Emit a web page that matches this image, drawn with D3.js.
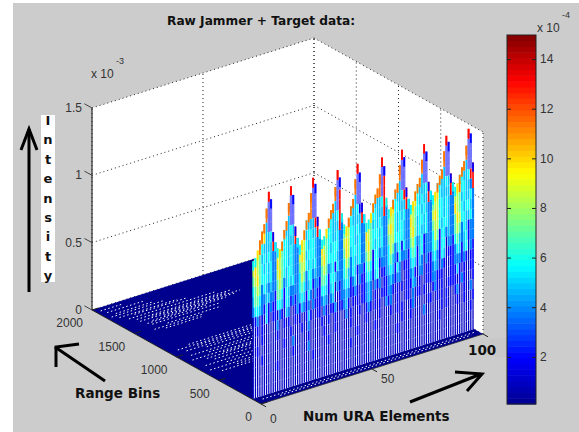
<!DOCTYPE html>
<html>
<head>
<meta charset="utf-8">
<script src="https://cdn.jsdelivr.net/npm/d3@7"></script>
<style>
  html, body { margin: 0; padding: 0; background: #fff; }
  svg { display: block; }
  text { font-family: "Liberation Sans", Arial, sans-serif; fill: #333; font-size: 12px; }
  .bold { font-family: "DejaVu Sans", sans-serif; font-weight: bold; fill: #111; }
</style>
</head>
<body>
<div class="content"></div>
<script>
var xTicks = [0, 50, 100];
var yTicks = [0, 500, 1000, 1500, 2000];
var zTicks = [0, 0.5, 1, 1.5];
var zTickLabels = ['0', '0.5', '1', '1.5'];
var barTicks = [2, 4, 6, 8, 10, 12, 14];

// intensity (x 10^-4) that each digit in meshRows / meshCaps stands for
var levelValues = [1.0, 2.0, 3.8, 4.8, 5.6, 7.0, 8.4, 9.8, 11.4, 13.0];

// top of the mesh wall for each of the 100 elements (x 10^-4)
var meshTop = [
    10.2, 10.4, 10.9, 11.6, 12.2, 12.7, 13.8, 15.0, 14.4, 11.9,
    11.1, 10.6, 10.5, 11.0, 11.8, 12.4, 13.7, 14.9, 14.2, 11.8,
    10.9, 10.3, 10.6, 11.3, 12.0, 12.5, 13.9, 15.0, 14.5, 12.0,
    11.0, 10.2, 10.4, 10.9, 11.6, 12.2, 12.6, 13.8, 15.0, 14.4,
    11.7, 10.8, 10.6, 11.2, 12.0, 12.5, 13.9, 15.0, 14.3, 12.0,
    11.1, 10.4, 10.6, 11.0, 11.7, 12.3, 12.7, 13.7, 14.9, 14.2,
    11.8, 10.9, 11.0, 11.5, 12.2, 12.6, 13.9, 15.0, 14.4, 12.1,
    11.2, 10.7, 10.9, 11.6, 12.1, 12.5, 13.8, 14.9, 14.3, 12.0,
    11.3, 10.9, 11.1, 11.7, 12.2, 12.6, 13.9, 15.0, 14.5, 12.1,
    11.4, 11.0, 11.2, 11.8, 12.3, 12.7, 13.8, 15.0, 14.6, 12.4
];

// colour of the outline at the top of each element
var meshCaps = '4478888911 4478888911 4478888911 4447888891 4478888911 4447888891 4478888911 4478888911 4478888911 4478888911';

// what colour the wall shows at each height, one row per 0.75 from 15 down to 0
var meshRows = [
    '1111111911 1111111911 1111111911 1111111191 1111111911 1111111191 1111111911 1111111911 1111111911 1111111911',
    '1111118110 1111118110 1111118119 1111111811 1111118119 1111111811 1111118110 1111118119 1111118119 1111118110',
    '1111188110 1111188119 1111188119 1111118819 1111188110 1111118819 1111188119 1111188110 1111188119 1111188119',
    '1111883119 1111883119 1111788119 1111178319 1111883119 1111178819 1111883119 1111873119 1111783119 1111883119',
    '1188873349 1178833439 7788433399 1787843349 8783433419 1788733349 8883433499 1787433349 7873433439 8784433499',
    '6678433339 2766443339 2677344339 2677443339 2678433339 2677443339 2667443339 2677434339 2677433339 2678443329',
    '5665343432 2665443432 2566434432 2665443342 2566443432 2665343432 2566434342 2665443432 2566443432 2665343342',
    '6765434342 2765443432 2676344432 2765434442 2676443342 2765444342 2676434432 2765344342 2676443432 2765434432',
    '5675444342 2675434432 2566434342 2675444432 2576344342 2675434342 2566444432 2675343342 2566434432 2576443342',
    '4565243232 2565234342 2465244232 2565234142 2465243342 2565144232 2465234142 2564234122 2465144232 2565243122',
    '3554223322 1554143222 2454234122 1554144322 2453243122 1454144122 2453214222 1454134122 2453144022 1453234122',
    '2443213121 1443143121 2343142021 1443134021 2343123021 1343134011 2343142011 1343132021 1342143011 1243134021',
    '0120103101 1021032001 2132120211 1232023001 2232112101 1232021201 1232122001 1231022011 1232021001 1222121011',
    '0010100000 0200101001 0100131001 1021011201 1231010101 1232010011 1221010101 1132010011 1221110001 1131010011',
    '0000100000 0100000100 0010020000 0100100100 0020100010 0121010100 2120010001 1020110100 0121010011 1101210001',
    '0010000000 0000100020 0000010000 0010000100 0000100000 0100000100 0010010100 0120000001 1001010100 0120010020',
    '0000100000 0000000010 0000020000 0000100000 0000000100 0000010000 0000000100 0100000200 0000010100 0010010001',
    '0000000000 0100000000 0000000100 0000000000 0000100000 0000000000 0000010000 0000000000 0000100000 0000000010',
    '0000000000 0000000000 0000000000 0000000000 0000000000 0000000000 0000000000 0000000000 0000000000 0000000000',
    '0000000000 0000000000 0000000000 0000000000 0000000000 0000000000 0000000000 0000000000 0000000000 0000000000'
];

// white flecks in the floor mesh: range bin, from element, to element
var floorGaps = [
    [1950, 2, 12], [1900, 3, 20], [1850, 5, 22], [1820, 2, 26], [1780, 4, 30],
    [1760, 10, 34], [1720, 6, 45], [1680, 8, 50], [1660, 14, 48], [1640, 8, 53],
    [1620, 18, 50], [1600, 12, 45], [1580, 9, 36], [1550, 10, 40], [1500, 15, 38],
    [1470, 8, 30], [1440, 12, 28], [1120, 10, 40], [1090, 4, 42], [1070, 12, 44],
    [1040, 6, 42], [1010, 14, 40], [960, 5, 45], [930, 12, 44], [890, 3, 45],
    [870, 16, 42], [850, 8, 38], [810, 10, 42], [760, 4, 44], [720, 12, 40],
    [680, 3, 40], [650, 14, 38], [620, 6, 35], [60, 3, 99], [35, 10, 96]
];

var width = 579, height = 432;
var wallBin = 105;

var svg = d3.select('.content').append('svg')
    .attr('width', width)
    .attr('height', height);

var xScale = d3.scaleLinear().domain([0, 100]).range([0, 1]);
var yScale = d3.scaleLinear().domain([0, 2000]).range([0, 1]);
var zScale = d3.scaleLinear().domain([0, 1.5]).range([0, 1]);

// orthographic view of the box
function project(x, y, z) {
    var a = xScale(x), b = yScale(y), c = zScale(z);
    return [261 + 222 * a - 169 * b, 404 - 70 * a - 94 * b - 202 * c];
}

function poly(points) {
    return 'M' + points.map(function(p) { return project(p[0], p[1], p[2]).join(','); }).join('L') + 'Z';
}

function segment(from, to, cls) {
    var p0 = project(from[0], from[1], from[2]);
    var p1 = project(to[0], to[1], to[2]);
    return svg.append('line')
        .attr('class', cls)
        .attr('x1', p0[0]).attr('y1', p0[1])
        .attr('x2', p1[0]).attr('y2', p1[1]);
}

function dotted(from, to) {
    segment(from, to, 'grid')
        .attr('stroke', '#222')
        .attr('stroke-width', 1)
        .attr('stroke-dasharray', '1 3');
}

var jet = d3.scaleLinear()
    .domain([0.1, 1.96, 5.68, 9.4, 13.12, 14.97])
    .range(['#00008f', '#0000ff', '#00ffff', '#ffff00', '#ff0000', '#800000'])
    .clamp(true);

function drawBackground() {
    svg.append('rect').attr('x', 13).attr('y', 3)
        .attr('width', width - 13).attr('height', height - 3)
        .attr('fill', '#cccccc');
    svg.append('rect').attr('x', 490).attr('y', 338)
        .attr('width', 17).attr('height', 19)
        .attr('fill', '#c8c8c8');
}

function drawBox() {
    svg.append('path').attr('fill', '#fff')
        .attr('d', poly([[0, 0, 0], [0, 2000, 0], [0, 2000, 1.5], [100, 2000, 1.5], [100, 0, 1.5], [100, 0, 0]]));

    zTicks.forEach(function(z) {
        dotted([0, 2000, z], [100, 2000, z]);
        dotted([100, 2000, z], [100, 0, z]);
    });
    xTicks.forEach(function(x) {
        dotted([x, 2000, 0], [x, 2000, 1.5]);
    });
    yTicks.forEach(function(y) {
        dotted([100, y, 0], [100, y, 1.5]);
    });
}

function drawFloor() {
    svg.append('path').attr('fill', jet(0.1))
        .attr('d', poly([[0, 0, 0], [0, 2000, 0], [100, 2000, 0], [100, 0, 0]]));

    floorGaps.forEach(function(g) {
        segment([g[1], g[0], 0], [g[2], g[0], 0], 'fleck')
            .attr('stroke', '#fff')
            .attr('stroke-width', 1)
            .attr('stroke-dasharray', '1.5 2.5');
    });
}

function drawMesh() {
    var rows = meshRows.map(function(r) { return r.replace(/ /g, ''); });
    var caps = meshCaps.replace(/ /g, '');
    var rowStep = 0.75;

    var wall = d3.area()
        .x(function(d, i) { return project(i + 0.5, wallBin, 0)[0]; })
        .y0(function(d, i) { return project(i + 0.5, wallBin, 0)[1]; })
        .y1(function(d, i) { return project(i + 0.5, wallBin, d / 10)[1]; });

    svg.append('path').datum(meshTop)
        .attr('fill', '#fff')
        .attr('d', wall);

    var stripes = svg.append('g').attr('class', 'mesh');

    meshTop.forEach(function(top, i) {
        rows.forEach(function(row, r) {
            var hi = Math.min(15 - r * rowStep, top);
            var lo = 15 - (r + 1) * rowStep;
            if (hi <= lo) return;
            var level = +row.charAt(i);
            var p0 = project(i + 0.5, wallBin, lo / 10);
            var p1 = project(i + 0.5, wallBin, hi / 10);
            // the blue up in the peaks reads as a pale block, not a line
            var pale = level === 1 && r < 4;
            stripes.append('line')
                .attr('x1', p0[0]).attr('y1', p0[1])
                .attr('x2', p1[0]).attr('y2', p1[1])
                .attr('stroke', jet(levelValues[level]))
                .attr('stroke-opacity', pale ? 0.55 : 1)
                .attr('stroke-width', pale ? 2.4 : level === 2 ? 2.2 : level === 0 ? 1.3 : 1.7);
        });
        var capTop = project(i + 0.5, wallBin, top / 10);
        var capLow = project(i + 0.5, wallBin, (top - 0.7) / 10);
        stripes.append('line')
            .attr('x1', capLow[0]).attr('y1', capLow[1])
            .attr('x2', capTop[0]).attr('y2', capTop[1])
            .attr('stroke', jet(levelValues[+caps.charAt(i)]))
            .attr('stroke-width', 1.8);
    });
}

function drawAxes() {
    segment([0, 2000, 0], [0, 2000, 1.5], 'axis').attr('stroke', '#444').attr('stroke-width', 1.4);
    segment([0, 2000, 0], [0, 0, 0], 'axis').attr('stroke', '#222').attr('stroke-width', 1);
    segment([0, 0, 0], [100, 0, 0], 'axis').attr('stroke', '#223').attr('stroke-width', 0.8);

    zTicks.forEach(function(z, i) {
        segment([0, 2000, z], [0, 2090, z], 'tick').attr('stroke', '#444');
        var p = project(0, 2000, z);
        svg.append('text')
            .attr('x', p[0] - 10).attr('y', p[1] + 4)
            .attr('text-anchor', 'end')
            .text(zTickLabels[i]);
    });
    yTicks.forEach(function(y) {
        segment([0, y, 0], [3, y, 0], 'tick').attr('stroke', '#222');
        var p = project(0, y, 0);
        svg.append('text')
            .attr('x', p[0] - 9).attr('y', p[1] + 17)
            .attr('text-anchor', 'end')
            .text(y);
    });
    xTicks.forEach(function(x) {
        segment([x, 0, 0], [x, -60, 0], 'tick').attr('stroke', '#222');
    });

    var p0 = project(0, 0, 0), p50 = project(50, 0, 0), p100 = project(100, 0, 0);
    svg.append('text').attr('x', p0[0] + 9).attr('y', p0[1] + 19).text(xTicks[0]);
    svg.append('text').attr('x', p50[0] + 9).attr('y', p50[1] + 14).text(xTicks[1]);
    svg.append('text').attr('class', 'bold')
        .attr('x', p100[0] - 15).attr('y', p100[1] + 21)
        .style('font-size', '13.5px')
        .text(xTicks[2]);
}

function drawColorbar() {
    var barScale = d3.scaleLinear().domain([0.1, 14.97]).range([404, 35]);
    var bands = d3.range(64);

    svg.append('g').selectAll('rect').data(bands).enter().append('rect')
        .attr('x', 507)
        .attr('width', 29)
        .attr('y', function(d) { return barScale(0.1 + (d + 1) * (14.87 / 64)); })
        .attr('height', 369 / 64 + 0.5)
        .attr('fill', function(d) { return jet(0.1 + (d + 0.5) * (14.87 / 64)); });

    var axis = d3.axisRight(barScale)
        .tickValues(barTicks)
        .tickSize(-29)
        .tickPadding(4);

    var g = svg.append('g').attr('transform', 'translate(536,0)').call(axis);
    g.select('.domain').remove();
    g.selectAll('.tick line').attr('stroke', '#222').attr('stroke-dasharray', '4 21');
    g.selectAll('.tick text')
        .attr('fill', '#333')
        .attr('x', 4)
        .style('font-size', '12px')
        .style('font-family', '"Liberation Sans", Arial, sans-serif');

    svg.append('rect').attr('x', 507).attr('y', 35)
        .attr('width', 29).attr('height', 369)
        .attr('fill', 'none').attr('stroke', '#222').attr('stroke-width', 1);

    svg.append('text').attr('x', 537).attr('y', 32).text('x 10');
    svg.append('text').attr('x', 562).attr('y', 18).style('font-size', '9px').text('-4');
}

function drawLabels() {
    svg.append('text').attr('x', 91).attr('y', 78).text('x 10');
    svg.append('text').attr('x', 116).attr('y', 64).style('font-size', '9px').text('-3');

    svg.append('text').attr('class', 'bold')
        .attr('x', 167).attr('y', 25)
        .style('font-size', '12.2px')
        .text('Raw Jammer + Target data:');
    svg.append('text').attr('class', 'bold')
        .attr('x', 75).attr('y', 398)
        .style('font-size', '13.5px')
        .text('Range Bins');
    svg.append('text').attr('class', 'bold')
        .attr('x', 303).attr('y', 421)
        .style('font-size', '13.5px')
        .text('Num URA Elements');

    svg.append('rect').attr('x', 41).attr('y', 115)
        .attr('width', 14).attr('height', 167)
        .attr('fill', '#fff');
    var letters = 'Intensity'.split('');
    svg.append('g').selectAll('text').data(letters).enter().append('text')
        .attr('class', 'bold')
        .attr('x', 48)
        .attr('y', function(d, i) { return 125 + i * 19.4; })
        .attr('text-anchor', 'middle')
        .style('font-size', '13px')
        .text(function(d) { return d; });
}

function drawArrows() {
    var strokes = [
        [[29, 292], [29, 129]], [[21, 150], [29, 129], [37, 150]],
        [[105, 381], [55, 347]], [[79, 344], [56, 347], [56, 367]],
        [[410, 402], [481, 374]], [[455, 372], [482, 374], [467, 391]]
    ];
    var line = d3.line();
    strokes.forEach(function(s) {
        svg.append('path')
            .attr('d', line(s))
            .attr('fill', 'none')
            .attr('stroke', '#000')
            .attr('stroke-width', 3);
    });
}

drawBackground();
drawBox();
drawFloor();
drawMesh();
drawAxes();
drawColorbar();
drawLabels();
drawArrows();
</script>
</body>
</html>
